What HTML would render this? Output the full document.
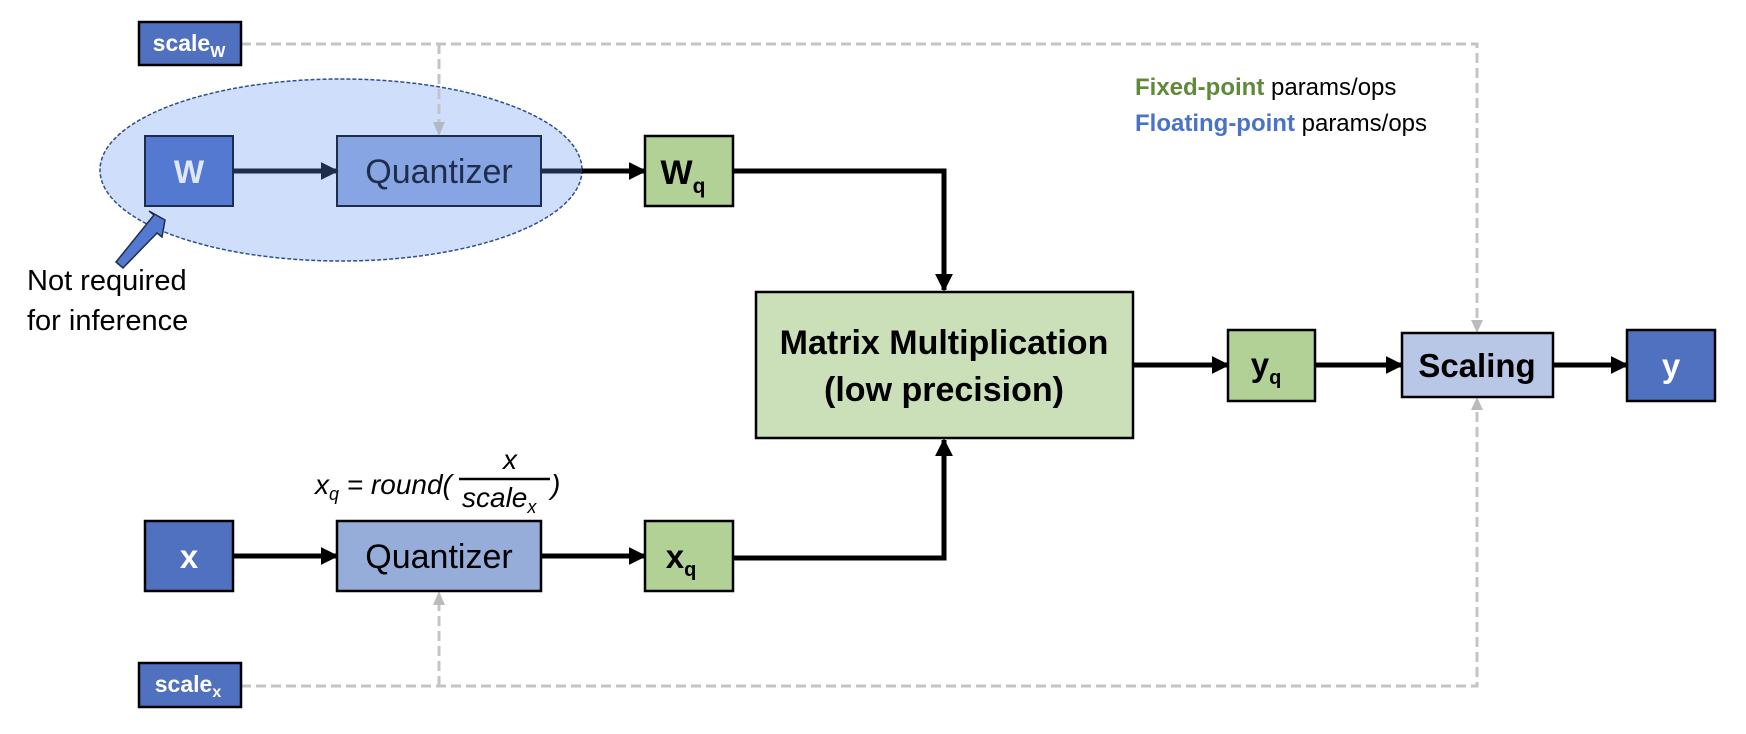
<!DOCTYPE html>
<html><head><meta charset="utf-8"><style>
html,body{margin:0;padding:0;background:#fff;}
svg{display:block;}
text{font-family:"Liberation Sans Narrow","Liberation Sans",sans-serif;}
</style></head><body>
<svg width="1746" height="734" viewBox="0 0 1746 734" xmlns="http://www.w3.org/2000/svg">
<defs>
<marker id="ah" markerWidth="18" markerHeight="20" refX="9" refY="5" orient="auto" markerUnits="userSpaceOnUse" viewBox="0 0 10 10">
<path d="M0,0 L10,5 L0,10 z" fill="#000"/></marker>
<marker id="ahd" markerWidth="18" markerHeight="20" refX="9" refY="5" orient="auto" markerUnits="userSpaceOnUse" viewBox="0 0 10 10">
<path d="M0,0 L10,5 L0,10 z" fill="#1f2d4d"/></marker>
</defs>

<!-- ellipse -->
<ellipse cx="341" cy="170" rx="241" ry="91" fill="#cfdffb" stroke="#2f4f8f" stroke-width="1.5" stroke-dasharray="4,2"/>

<!-- dashed gray lines -->
<g stroke="#c4c4c4" stroke-width="3" stroke-dasharray="10,5" fill="none">
<polyline points="241,44 1477,44 1477,322"/>
<line x1="439" y1="44" x2="439" y2="124"/>
<polyline points="241,686 1477,686 1477,408"/>
<line x1="439" y1="686" x2="439" y2="600"/>
</g>
<path d="M433,122 L445,122 L439,136 z" fill="#b4b8c4"/>
<path d="M1471,320 L1483,320 L1477,333 z" fill="#bbbbbb"/>
<path d="M433,605 L445,605 L439,591 z" fill="#bbbbbb"/>
<path d="M1471,410 L1483,410 L1477,397 z" fill="#bbbbbb"/>

<!-- scale_w -->
<rect x="139" y="22" width="102" height="43" fill="#5071bf" stroke="#000" stroke-width="2.5"/>
<text x="189" y="51" font-size="23" font-weight="bold" fill="#fff" text-anchor="middle">scale<tspan font-size="16" dy="6">W</tspan></text>

<!-- W -->
<rect x="145" y="136" width="88" height="70" fill="#5479d0" stroke="#1f2d4d" stroke-width="2"/>
<text x="189" y="183" font-size="32" font-weight="bold" fill="#dfe8fb" text-anchor="middle">W</text>
<rect x="337" y="136" width="204" height="70" fill="#86a5e2" stroke="#1f2d4d" stroke-width="2"/>
<text x="439" y="183" font-size="34" fill="#1f2d4d" text-anchor="middle">Quantizer</text>
<line x1="233" y1="171" x2="337" y2="171" stroke="#1f2d4d" stroke-width="5" marker-end="url(#ahd)"/>
<line x1="541" y1="171" x2="582" y2="171" stroke="#1f2d4d" stroke-width="5"/>
<line x1="582" y1="171" x2="645" y2="171" stroke="#000" stroke-width="5" marker-end="url(#ah)"/>

<!-- pointer arrow -->
<path d="M116,262 L154,215 L149,211 L165,220 L162,237 L157,233 L123,268 z" fill="#5479d0" stroke="#1f2d4d" stroke-width="1.5"/>
<text x="27" y="290" font-size="29" fill="#000">Not required</text>
<text x="27" y="330" font-size="29" fill="#000">for inference</text>

<!-- Wq -->
<rect x="645" y="136" width="88" height="70" fill="#b1d196" stroke="#000" stroke-width="2.5"/>
<text x="683" y="184" font-size="34" font-weight="bold" fill="#000" text-anchor="middle">W<tspan font-size="21" dy="9">q</tspan></text>
<polyline points="733,171 944,171 944,290" fill="none" stroke="#000" stroke-width="5" marker-end="url(#ah)"/>

<!-- Matrix -->
<rect x="756" y="292" width="377" height="146" fill="#cbe0b9" stroke="#000" stroke-width="2.5"/>
<text x="944" y="354" font-size="34" font-weight="bold" fill="#000" text-anchor="middle">Matrix Multiplication</text>
<text x="944" y="401" font-size="34" font-weight="bold" fill="#000" text-anchor="middle">(low precision)</text>

<!-- legend -->
<text x="1135" y="95" font-size="24" fill="#000"><tspan fill="#5f8a3a" font-weight="bold">Fixed-point</tspan> params/ops</text>
<text x="1135" y="131" font-size="24" fill="#000"><tspan fill="#4a72c8" font-weight="bold">Floating-point</tspan> params/ops</text>

<!-- yq, scaling, y -->
<line x1="1133" y1="365" x2="1228" y2="365" stroke="#000" stroke-width="5" marker-end="url(#ah)"/>
<rect x="1228" y="330" width="87" height="71" fill="#b1d196" stroke="#000" stroke-width="2.5"/>
<text x="1266" y="376" font-size="33" font-weight="bold" fill="#000" text-anchor="middle">y<tspan font-size="20" dy="8">q</tspan></text>
<line x1="1315" y1="365" x2="1402" y2="365" stroke="#000" stroke-width="5" marker-end="url(#ah)"/>
<rect x="1402" y="333" width="151" height="64" fill="#b8c7e5" stroke="#000" stroke-width="2.5"/>
<text x="1477" y="377" font-size="33" font-weight="bold" fill="#000" text-anchor="middle">Scaling</text>
<line x1="1553" y1="365" x2="1627" y2="365" stroke="#000" stroke-width="5" marker-end="url(#ah)"/>
<rect x="1627" y="330" width="88" height="71" fill="#5071bf" stroke="#000" stroke-width="2.5"/>
<text x="1671" y="377" font-size="33" font-weight="bold" fill="#fff" text-anchor="middle">y</text>

<!-- formula -->
<text x="315" y="494" font-size="28" font-style="italic" font-family="Liberation Serif,serif" fill="#000">x<tspan font-size="18" dy="6">q</tspan><tspan dy="-6"> = round(</tspan></text>
<text x="510" y="469" font-size="28" font-style="italic" font-family="Liberation Serif,serif" fill="#000" text-anchor="middle">x</text>
<line x1="459" y1="479" x2="550" y2="479" stroke="#000" stroke-width="2.5"/>
<text x="462" y="507" font-size="28" font-style="italic" font-family="Liberation Serif,serif" fill="#000">scale<tspan font-size="18" dy="6">x</tspan></text>
<text x="551" y="494" font-size="28" font-style="italic" font-family="Liberation Serif,serif" fill="#000">)</text>

<!-- x row -->
<rect x="145" y="521" width="88" height="70" fill="#5071bf" stroke="#000" stroke-width="2.5"/>
<text x="189" y="568" font-size="33" font-weight="bold" fill="#fff" text-anchor="middle">x</text>
<line x1="233" y1="556" x2="337" y2="556" stroke="#000" stroke-width="5" marker-end="url(#ah)"/>
<rect x="337" y="521" width="204" height="70" fill="#96acd9" stroke="#000" stroke-width="2.5"/>
<text x="439" y="568" font-size="34" fill="#000" text-anchor="middle">Quantizer</text>
<line x1="541" y1="556" x2="645" y2="556" stroke="#000" stroke-width="5" marker-end="url(#ah)"/>
<rect x="645" y="521" width="88" height="70" fill="#b1d196" stroke="#000" stroke-width="2.5"/>
<text x="681" y="568" font-size="33" font-weight="bold" fill="#000" text-anchor="middle">x<tspan font-size="20" dy="8">q</tspan></text>
<polyline points="733,558 944,558 944,440" fill="none" stroke="#000" stroke-width="5" marker-end="url(#ah)"/>

<!-- scale_x -->
<rect x="139" y="663" width="102" height="44" fill="#5071bf" stroke="#000" stroke-width="2.5"/>
<text x="188" y="692" font-size="23" font-weight="bold" fill="#fff" text-anchor="middle">scale<tspan font-size="16" dy="5">x</tspan></text>
</svg>
</body></html>
